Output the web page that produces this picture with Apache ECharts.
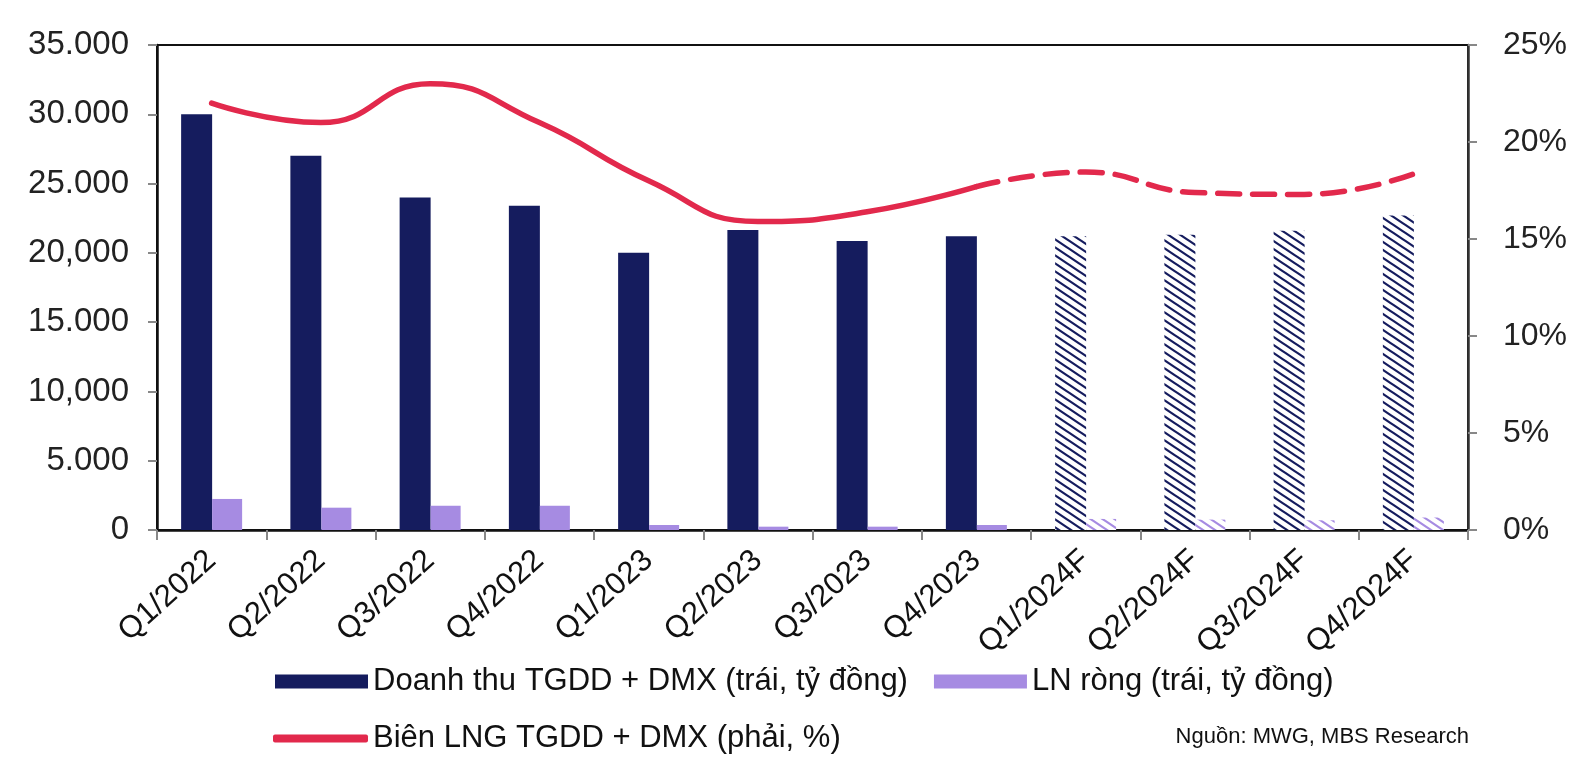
<!DOCTYPE html>
<html><head><meta charset="utf-8">
<script src="https://cdn.jsdelivr.net/npm/echarts@6/dist/echarts.min.js"></script>
<style>html,body{margin:0;padding:0;background:#fff}#c{width:1575px;height:768px}</style>
</head><body><div id="c"></div>
<script>
const categories = ['Q1/2022','Q2/2022','Q3/2022','Q4/2022','Q1/2023','Q2/2023','Q3/2023','Q4/2023','Q1/2024F','Q2/2024F','Q3/2024F','Q4/2024F'];
const revenue = [30000,27000,24000,23400,20000,21650,20850,21200,21200,21300,21600,22700];
const netProfit = [2240,1610,1750,1750,360,240,240,360,800,750,700,900];
const margin = [22.0,21.0,23.0,21.0,18.0,15.9,16.4,17.7,18.45,17.4,17.3,18.35];
const leftTicks = ['0','5.000','10,000','15.000','20,000','25.000','30.000','35.000'];
const rightTicks = ['0%','5%','10%','15%','20%','25%'];

const NAVY = '#151c5e', PURPLE = '#a68be2', RED = '#e2294c';
function hatch(color){
  const c = document.createElement('canvas'); c.width = 12; c.height = 8;
  const g = c.getContext('2d');
  g.fillStyle = '#fff'; g.fillRect(0,0,12,8);
  g.strokeStyle = color; g.lineWidth = 2.2;
  g.beginPath(); g.moveTo(-12,-8); g.lineTo(24,16); g.moveTo(-12,0); g.lineTo(12,16); g.moveTo(0,-8); g.lineTo(24,8); g.stroke();
  return {image: c, repeat: 'repeat'};
}
const isF = categories.map(c => c.endsWith('F'));
const revData = revenue.map((v,i) => isF[i] ? {value: v, itemStyle: {color: hatch(NAVY)}} : v);
const npData = netProfit.map((v,i) => isF[i] ? {value: v, itemStyle: {color: hatch(PURPLE)}} : v);
const lastActual = isF.indexOf(true) - 1;
const marginSolid = margin.map((v,i) => i <= lastActual ? v : null);
const marginDash = margin.map((v,i) => i >= lastActual ? v : null);

const chart = echarts.init(document.getElementById('c'));
const font = 'Liberation Sans, Arial, sans-serif';
chart.setOption({
  animation: false,
  grid: {left: 157, right: 107, top: 45, bottom: 238, show: true, borderColor: '#111', borderWidth: 2},
  xAxis: {
    type: 'category', data: categories, boundaryGap: true,
    axisLine: {lineStyle: {color: '#111', width: 2.5}},
    axisTick: {show: true, length: 10, lineStyle: {color: '#888', width: 2}},
    axisLabel: {rotate: 42, margin: 26, fontSize: 31, color: '#111', fontFamily: font}
  },
  yAxis: [{
    type: 'value', min: 0, max: 35000, interval: 5000,
    axisLine: {show: true, lineStyle: {color: '#111', width: 2.5}},
    axisTick: {show: true, length: 9, lineStyle: {color: '#888', width: 2}},
    splitLine: {show: false},
    axisLabel: {margin: 28, fontSize: 33, color: '#222', fontFamily: font,
      formatter: v => leftTicks[Math.round(v/5000)]}
  },{
    type: 'value', min: 0, max: 25, interval: 5, position: 'right',
    axisLine: {show: true, lineStyle: {color: '#333', width: 2.5}},
    axisTick: {show: true, length: 9, lineStyle: {color: '#888', width: 2}},
    splitLine: {show: false},
    axisLabel: {margin: 35, fontSize: 32, color: '#222', fontFamily: font, align: 'left',
      formatter: v => rightTicks[Math.round(v/5)]}
  }],
  legend: [{
    left: 270, top: 661, itemWidth: 93, itemHeight: 14, itemGap: 26,
    textStyle: {fontSize: 31, color: '#111', fontFamily: font},
    data: [{name: 'Doanh thu TGDD + DMX (trái, tỷ đồng)', icon: 'rect'}, {name: 'LN ròng (trái, tỷ đồng)', icon: 'rect'}]
  },{
    left: 268, top: 718, itemWidth: 95, itemHeight: 8,
    textStyle: {fontSize: 31, color: '#111', fontFamily: font},
    data: [{name: 'Biên LNG TGDD + DMX (phải, %)', icon: 'roundRect'}]
  }],
  graphic: [{type: 'text', right: 106, top: 726,
    style: {text: 'Nguồn: MWG, MBS Research', fontSize: 22, fill: '#111', fontFamily: font}}],
  series: [
    {name: 'Doanh thu TGDD + DMX (trái, tỷ đồng)', type: 'bar', data: revData, barWidth: 31, barGap: '0%', itemStyle: {color: NAVY}},
    {name: 'LN ròng (trái, tỷ đồng)', type: 'bar', data: npData, barWidth: 30, itemStyle: {color: PURPLE}},
    {name: 'Biên LNG TGDD + DMX (phải, %)', type: 'line', yAxisIndex: 1, data: marginSolid, smooth: 0.5, showSymbol: false, symbol: 'none',
      lineStyle: {color: RED, width: 5.5, cap: 'round'}, itemStyle: {color: RED}},
    {name: 'margin-forecast', type: 'line', yAxisIndex: 1, data: marginDash, smooth: 0.5, showSymbol: false, symbol: 'none',
      lineStyle: {color: RED, width: 5.5, type: [22, 13], cap: 'round'}, itemStyle: {color: RED}}
  ]
});
</script></body></html>
